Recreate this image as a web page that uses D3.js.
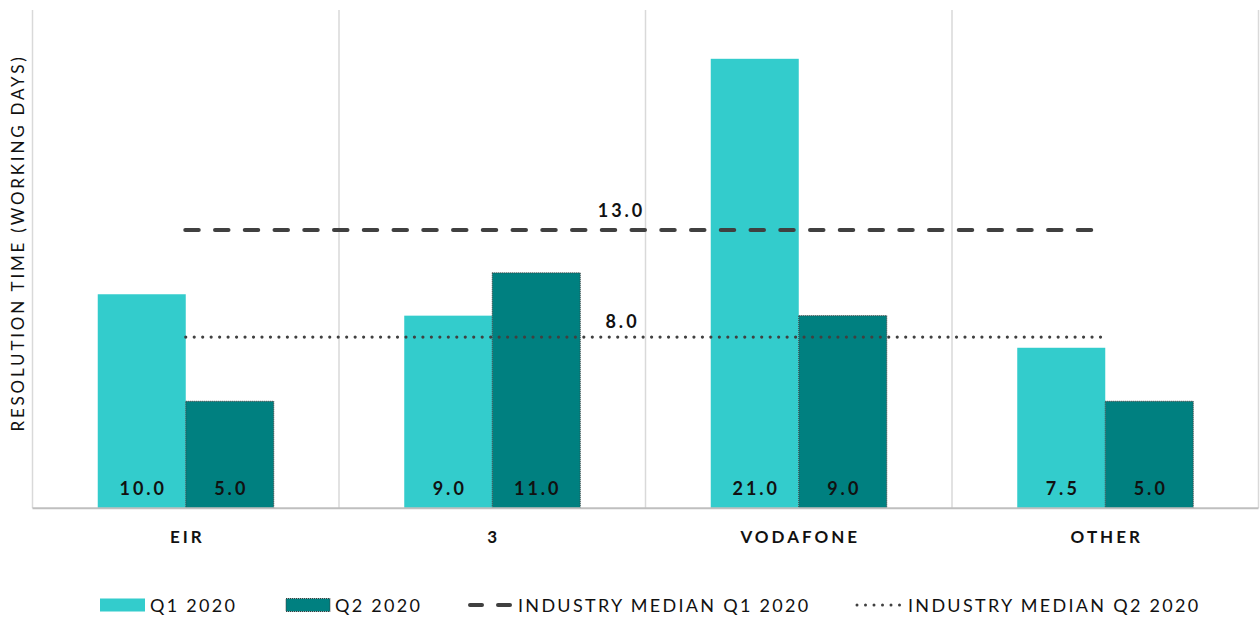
<!DOCTYPE html>
<html>
<head>
<meta charset="utf-8">
<script src="https://cdn.jsdelivr.net/npm/d3@7"></script>
<style>
  html, body { margin: 0; padding: 0; background: #fff; }
  svg { display: block; }
  text { font-family: Lato, "Open Sans", sans-serif; fill: #111; }
</style>
</head>
<body>
<svg id="chart" width="1260" height="618"></svg>
<script>
const categories = ["EIR", "3", "VODAFONE", "OTHER"];
const seriesNames = ["Q1 2020", "Q2 2020"];
const q1Values = [10.0, 9.0, 21.0, 7.5];
const q2Values = [5.0, 11.0, 9.0, 5.0];
const medianQ1 = 13.0;
const medianQ2 = 8.0;
const lineNames = ["INDUSTRY MEDIAN Q1 2020", "INDUSTRY MEDIAN Q2 2020"];
const yTitle = "RESOLUTION TIME (WORKING DAYS)";

const colors = { q1: "#33CCCC", q2: "#008080", line: "#404040", grid: "#D9D9D9", axis: "#BFBFBF" };

const svg = d3.select("#chart");
const plot = { left: 32.5, right: 1258.5, top: 10, bottom: 508.3 };

const x = d3.scaleBand().domain(categories).range([plot.left, plot.right]).padding(0);
const bw = x.bandwidth();
const groupW = 176;
const x1 = d3.scaleBand().domain(seriesNames).range([(bw - groupW) / 2, (bw + groupW) / 2]).padding(0);
const y = d3.scaleLinear().domain([0, 23.28]).range([plot.bottom, plot.top]);

// vertical gridlines (category boundaries)
const bounds = categories.map(c => x(c)).concat([plot.right]);
svg.append("g").selectAll("line").data(bounds).join("line")
  .attr("x1", d => d).attr("x2", d => d)
  .attr("y1", plot.top).attr("y2", plot.bottom)
  .attr("stroke", colors.grid).attr("stroke-width", 1.5);

// bars
const data = categories.map((c, i) => ({ cat: c, vals: [
  { s: seriesNames[0], v: q1Values[i] }, { s: seriesNames[1], v: q2Values[i] } ] }));

const groups = svg.append("g").selectAll("g").data(data).join("g")
  .attr("transform", d => `translate(${x(d.cat)},0)`);

groups.selectAll("rect").data(d => d.vals).join("rect")
  .attr("x", d => x1(d.s)).attr("width", x1.bandwidth())
  .attr("y", d => y(d.v)).attr("height", d => y(0) - y(d.v))
  .attr("fill", (d, i) => i === 0 ? colors.q1 : colors.q2)
  .attr("stroke", (d, i) => i === 0 ? "none" : "#3a3a3a")
  .attr("stroke-width", 1)
  .attr("stroke-dasharray", "1,1");

groups.selectAll("text.val").data(d => d.vals).join("text")
  .attr("class", "val")
  .attr("x", d => x1(d.s) + x1.bandwidth() / 2 + 1.5)
  .attr("y", y(0) - 13)
  .attr("text-anchor", "middle")
  .style("font-size", "18px").style("font-weight", "700").style("letter-spacing", "3px")
  .text(d => d.v.toFixed(1));

// x axis line
svg.append("line").attr("x1", plot.left).attr("x2", plot.right)
  .attr("y1", plot.bottom).attr("y2", plot.bottom)
  .attr("stroke", colors.axis).attr("stroke-width", 2);

// category labels
svg.append("g").selectAll("text").data(categories).join("text")
  .attr("x", d => x(d) + bw / 2 + 1.5).attr("y", 543)
  .attr("text-anchor", "middle")
  .style("font-size", "17px").style("font-weight", "700").style("letter-spacing", "3px")
  .text(d => d);

// median lines
const xStart = x(categories[0]) + bw / 2;
const xEnd = x(categories[categories.length - 1]) + bw / 2;
svg.append("line").attr("x1", xStart - 0.5).attr("x2", xEnd)
  .attr("y1", y(medianQ1)).attr("y2", y(medianQ1))
  .attr("stroke", colors.line).attr("stroke-width", 4)
  .attr("stroke-linecap", "round").attr("stroke-dasharray", "13.5,16.25");
svg.append("line").attr("x1", xStart).attr("x2", xEnd)
  .attr("y1", y(medianQ2)).attr("y2", y(medianQ2))
  .attr("stroke", colors.line).attr("stroke-width", 3.2)
  .attr("stroke-linecap", "round").attr("stroke-dasharray", "0,8.47");

// median labels
const labelX = x(categories[2]) - 24;
svg.append("text").attr("x", labelX).attr("y", y(medianQ1) - 13)
  .attr("text-anchor", "middle")
  .style("font-size", "18px").style("font-weight", "700").style("letter-spacing", "3px")
  .text(medianQ1.toFixed(1));
svg.append("text").attr("x", labelX + 1).attr("y", y(medianQ2) - 9)
  .attr("text-anchor", "middle")
  .style("font-size", "18px").style("font-weight", "700").style("letter-spacing", "3px")
  .text(medianQ2.toFixed(1));

// y title
svg.append("text")
  .attr("transform", `translate(24,${243}) rotate(-90)`)
  .attr("text-anchor", "middle")
  .style("font-size", "17px").style("letter-spacing", "2.8px")
  .text(yTitle);

// legend
const leg = svg.append("g");
const ly = 605;
const legendTextStyle = t => t.style("font-size", "18px").style("letter-spacing", "2.3px").attr("dominant-baseline", "central");
leg.append("rect").attr("x", 100).attr("y", ly - 6.5).attr("width", 45).attr("height", 13).attr("fill", colors.q1);
legendTextStyle(leg.append("text").attr("x", 150).attr("y", ly).text(seriesNames[0]));
leg.append("rect").attr("x", 286).attr("y", ly - 6.5).attr("width", 44).attr("height", 13).attr("fill", colors.q2)
  .attr("stroke", "#3a3a3a").attr("stroke-width", 1).attr("stroke-dasharray", "1,1");
legendTextStyle(leg.append("text").attr("x", 335).attr("y", ly).text(seriesNames[1]));
leg.append("line").attr("x1", 470).attr("x2", 515).attr("y1", ly).attr("y2", ly)
  .attr("stroke", colors.line).attr("stroke-width", 4).attr("stroke-linecap", "round")
  .attr("stroke-dasharray", "12,16");
legendTextStyle(leg.append("text").attr("x", 518).attr("y", ly).text(lineNames[0]));
leg.append("line").attr("x1", 857).attr("x2", 902).attr("y1", ly).attr("y2", ly)
  .attr("stroke", colors.line).attr("stroke-width", 3).attr("stroke-linecap", "round")
  .attr("stroke-dasharray", "0,8.5");
legendTextStyle(leg.append("text").attr("x", 908).attr("y", ly).text(lineNames[1]));
</script>
</body>
</html>
